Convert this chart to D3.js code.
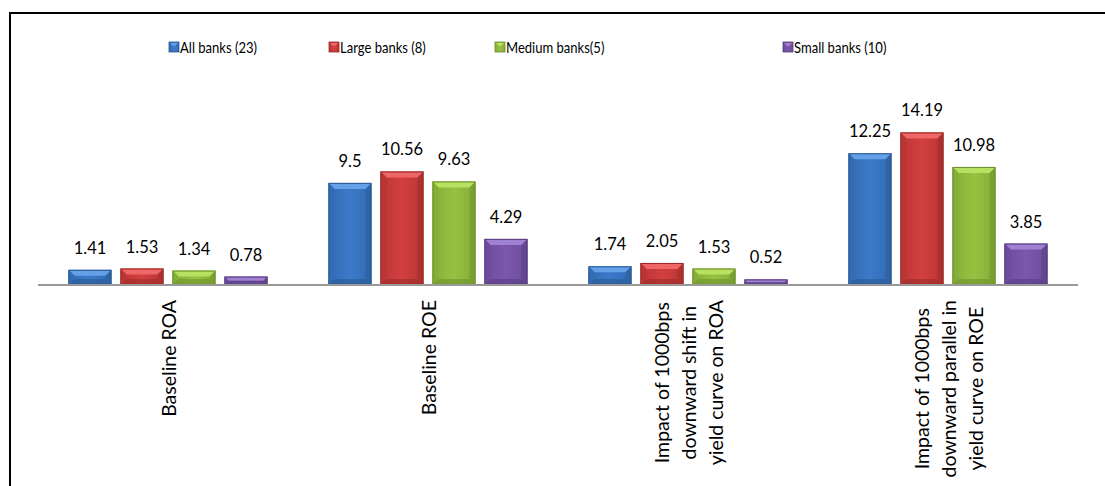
<!DOCTYPE html>
<html>
<head>
<meta charset="utf-8">
<script src="https://cdn.jsdelivr.net/npm/d3@7"></script>
<style>
  html, body { margin: 0; padding: 0; background: #fff; }
  svg { display: block; }
  text { font-family: Lato, "Open Sans", sans-serif; fill: #000; }
</style>
</head>
<body>
<svg id="chart" width="1105" height="486"></svg>
<script>
// Category labels (each entry is one label, split into lines)
const categories = [
  ["Baseline ROA"],
  ["Baseline ROE"],
  ["Impact of 1000bps", "downward shift in", "yield curve on ROA"],
  ["Impact of 1000bps", "downward parallel in", "yield curve on ROE"]
];
const seriesNames = ["All banks (23)", "Large banks (8)", "Medium banks(5)", "Small banks (10)"];
const allBanks    = [1.41, 9.5, 1.74, 12.25];
const largeBanks  = [1.53, 10.56, 2.05, 14.19];
const mediumBanks = [1.34, 9.63, 1.53, 10.98];
const smallBanks  = [0.78, 4.29, 0.52, 3.85];
const seriesValues = [allBanks, largeBanks, mediumBanks, smallBanks];

// Palette: body, lighter top bevel, darker outline/bottom, side shade
const palette = [
  { body: "#3B79C9", top: "#63A0E8", dark: "#2A5890", side: "#336BB3" },
  { body: "#D23F3F", top: "#EF6666", dark: "#992A2A", side: "#BB3535" },
  { body: "#95C241", top: "#B8E061", dark: "#6B8D2B", side: "#85AE39" },
  { body: "#7C57AE", top: "#9F80D2", dark: "#563B7E", side: "#6E4C9C" }
];

const svg = d3.select("#chart");

// Frame lines around the figure
svg.append("line").attr("x1", 10).attr("x2", 1105).attr("y1", 13).attr("y2", 13)
  .attr("stroke", "#000").attr("stroke-width", 2);
svg.append("line").attr("x1", 10).attr("x2", 10).attr("y1", 12).attr("y2", 486)
  .attr("stroke", "#000").attr("stroke-width", 2);

const axisY = 285;
const x0 = d3.scaleBand().domain(d3.range(categories.length)).range([38, 1078]).padding(0);
const x1 = d3.scaleBand().domain(d3.range(seriesNames.length))
  .range([0, 208]).paddingInner(0.173).paddingOuter(0.0865);
const y = d3.scaleLinear().domain([0, 16]).range([axisY, axisY - 172]);

const defs = svg.append("defs");
palette.forEach((p, i) => {
  const g = defs.append("linearGradient").attr("id", "body" + i)
    .attr("x1", 0).attr("x2", 1).attr("y1", 0).attr("y2", 0);
  g.append("stop").attr("offset", 0).attr("stop-color", p.side);
  g.append("stop").attr("offset", 0.5).attr("stop-color", p.body);
  g.append("stop").attr("offset", 1).attr("stop-color", p.side);
});

// Bars
const bars = [];
seriesValues.forEach((vals, s) => {
  vals.forEach((v, c) => {
    bars.push({ s, c, v });
  });
});

const barG = svg.append("g");
bars.forEach(d => {
  const x = x0(d.c) + x0.bandwidth() / 2 - 104 + x1(d.s);
  const w = x1.bandwidth();
  const yt = y(d.v);
  const h = axisY - yt;
  const p = palette[d.s];
  const b = Math.min(6, h / 2);
  const g = barG.append("g");
  g.append("rect").attr("x", x).attr("y", yt).attr("width", w).attr("height", h)
    .attr("fill", `url(#body${d.s})`);
  // top bevel
  g.append("polygon").attr("points",
    [[x, yt], [x + w, yt], [x + w - b, yt + b], [x + b, yt + b]].join(" "))
    .attr("fill", p.top);
  // bottom bevel
  g.append("polygon").attr("points",
    [[x, yt + h], [x + w, yt + h], [x + w - b, yt + h - b], [x + b, yt + h - b]].join(" "))
    .attr("fill", p.dark).attr("opacity", 0.55);
  // side bevels
  g.append("polygon").attr("points",
    [[x, yt], [x + b, yt + b], [x + b, yt + h - b], [x, yt + h]].join(" "))
    .attr("fill", p.side).attr("opacity", 0.9);
  g.append("polygon").attr("points",
    [[x + w, yt], [x + w - b, yt + b], [x + w - b, yt + h - b], [x + w, yt + h]].join(" "))
    .attr("fill", p.dark).attr("opacity", 0.45);
  g.append("rect").attr("x", x + 0.5).attr("y", yt + 0.5).attr("width", w - 1).attr("height", h - 1)
    .attr("fill", "none").attr("stroke", p.dark).attr("stroke-width", 1);
  // value label
  svg.append("text").attr("x", x + w / 2).attr("y", yt - 16)
    .attr("text-anchor", "middle").attr("font-size", 16.5).text(d.v);
});

// Category axis line
svg.append("line").attr("x1", x0.range()[0]).attr("x2", x0.range()[1])
  .attr("y1", axisY).attr("y2", axisY).attr("stroke", "#9a9a9a").attr("stroke-width", 2);

// Rotated category labels, lines centred on each other
const lineGap = 27;
const catFont = 19.5;
categories.forEach((lines, c) => {
  const cx = x0(c) + x0.bandwidth() / 2 + 1;
  const tg = svg.append("g");
  const texts = lines.map(t => tg.append("text").attr("font-size", catFont)
    .attr("text-anchor", "middle").text(t));
  const maxLen = d3.max(texts, t => t.node().getComputedTextLength());
  const cy = 300 + maxLen / 2;
  texts.forEach((t, i) => {
    const lx = cx + (i - (lines.length - 1) / 2) * lineGap + 7;
    t.attr("transform", `translate(${lx},${cy}) rotate(-90)`);
  });
});

// Legend (narrowed text to suit the compact legend face)
const legendX = [169, 329, 495, 783];
seriesNames.forEach((name, i) => {
  const p = palette[i];
  svg.append("rect").attr("x", legendX[i]).attr("y", 42).attr("width", 10).attr("height", 10)
    .attr("fill", `url(#body${i})`).attr("stroke", p.dark).attr("stroke-width", 0.8);
  svg.append("polygon").attr("points",
    [[legendX[i] + 1, 43], [legendX[i] + 9, 43], [legendX[i] + 6, 46], [legendX[i] + 4, 46]].join(" "))
    .attr("fill", p.top);
  svg.append("text")
    .attr("transform", `translate(${legendX[i] + 11},52.5) scale(0.9,1)`)
    .attr("font-size", 14.5).text(name);
});
</script>
</body>
</html>
